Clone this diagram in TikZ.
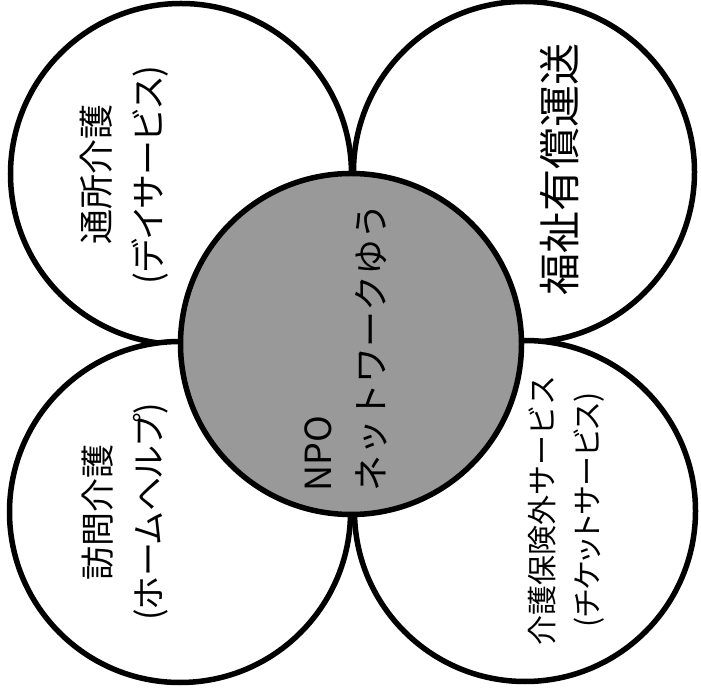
\documentclass[tikz,border=0pt]{standalone}
\usepackage{fontspec}
\setmainfont{Noto Sans CJK JP}
\newfontfamily\propfont[RawFeature=+palt]{Noto Sans CJK JP}
\begin{document}
\begin{tikzpicture}[x=1pt,y=1pt,
  ring/.style={circle,draw=black,line width=5.5pt,fill=white,minimum size=341pt,inner sep=0pt},
  hub/.style={ring,fill=black!40},
  vtext/.style={rotate=90,inner sep=0pt,text=black}]
\useasboundingbox (0,0) rectangle (701,691);
\node[ring] (tl) at (181,517) {};
\node[ring] (tr) at (524,519) {};
\node[ring] (bl) at (180,179) {};
\node[ring] (br) at (525,180) {};
\node[hub] (c) at (351,347) {};
\node[vtext,align=center,font=\fontsize{35pt}{52pt}\selectfont] (tltext) at (124,516) {通所介護\\{\propfont (デイサービス)}};
\node[vtext,align=center,font=\fontsize{42pt}{50pt}\selectfont] (trtext) at (560,521) {福祉有償運送};
\node[vtext,align=center,font=\fontsize{34pt}{51pt}\selectfont] (bltext) at (125,179) {訪問介護\\{\propfont (ホームヘルプ)}};
\node[vtext,align=center,font=\fontsize{30pt}{45pt}\selectfont] (brtext) at (566,181) {介護保険外サービス\\{\propfont (チケットサービス)}};
\node[vtext,align=left,font=\fontsize{36pt}{53pt}\selectfont,anchor=west] (ctext) at (346,199) {NPO\\ネットワークゆう};
\end{tikzpicture}
\end{document}
